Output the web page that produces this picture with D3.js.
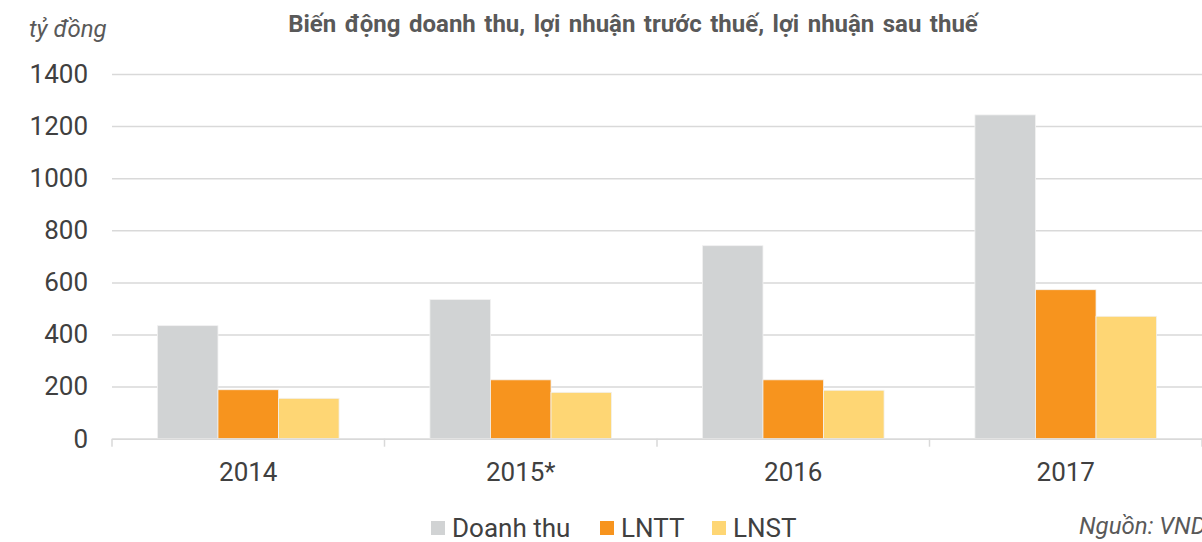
<!DOCTYPE html>
<html>
<head>
<meta charset="utf-8">
<script src="https://cdn.jsdelivr.net/npm/d3@7"></script>
<style>
html, body { margin: 0; padding: 0; background: #fff; overflow: hidden; }
svg { display: block; font-family: Roboto, "Open Sans", sans-serif; }
</style>
</head>
<body>
<div id="chart"></div>
<script>
const years = ['2014', '2015*', '2016', '2017']
const series = ['Doanh thu', 'LNTT', 'LNST']
const doanhThu = [434, 534, 741, 1243]
const lntt = [188, 226, 226, 572]
const lnst = [155, 178, 186, 470]
const yTicks = [0, 200, 400, 600, 800, 1000, 1200, 1400]
const colors = ['#d1d3d4', '#f7941e', '#fed674']

let width = 1202
let height = 542

let svg = d3.select('#chart').append('svg')
.attr('width', width)
.attr('height', height)

let x0 = d3.scaleBand()
.domain(years)
.range([112, 1202])

let x1 = d3.scaleBand()
.domain(series)
.range([0, x0.bandwidth()])
.paddingOuter(0.75)

let y = d3.scaleLinear()
.domain([0, 1400])
.range([438.7, 74])

let color = d3.scaleOrdinal()
.domain(series)
.range(colors)

let rows = years.map((yr, i) => ({ year: yr, values: [doanhThu[i], lntt[i], lnst[i]] }))

// grid + y labels
let grid = svg.append('g')
.call(d3.axisLeft(y).tickValues(yTicks).tickFormat(d3.format('d')).tickSize(-(1202 - 112)).tickPadding(24))
.attr('transform', 'translate(112,0)')

grid.select('.domain').remove()
grid.selectAll('.tick line')
.attr('stroke', '#d9d9d9')
.attr('stroke-width', 1.5)
grid.selectAll('.tick text')
.attr('fill', '#404040')
.style('font-size', '26px')
.style('font-family', 'Roboto, sans-serif')

// bars
svg.append('g').selectAll('g')
.data(rows)
.enter()
.append('g')
.attr('transform', d => 'translate(' + x0(d.year) + ',0)')
.selectAll('rect')
.data(d => d.values.map((v, i) => ({ key: series[i], value: v })))
.enter()
.append('rect')
.attr('x', d => x1(d.key))
.attr('y', d => y(d.value))
.attr('width', x1.bandwidth())
.attr('height', d => y(0) - y(d.value))
.attr('fill', d => color(d.key))
.attr('stroke', '#f2f2f2')
.attr('stroke-width', 0.8)

// x axis
let xAxis = svg.append('g')
.attr('transform', 'translate(0,' + y(0) + ')')
.call(d3.axisBottom(x0).tickSize(0).tickPadding(24))

xAxis.select('.domain')
.attr('stroke', '#d9d9d9')
.attr('stroke-width', 1.5)
xAxis.selectAll('.tick text')
.attr('fill', '#404040')
.style('font-size', '26px')
.style('font-family', 'Roboto, sans-serif')

xAxis.selectAll('.sep')
.data(years.map(yr => x0(yr)).concat([x0.range()[1]]))
.enter()
.append('line')
.attr('class', 'sep')
.attr('x1', d => d)
.attr('x2', d => d)
.attr('y1', 0)
.attr('y2', 8)
.attr('stroke', '#d9d9d9')
.attr('stroke-width', 1.5)

// title, unit, source
svg.append('text')
.attr('x', 633)
.attr('y', 32)
.attr('text-anchor', 'middle')
.attr('fill', '#595959')
.style('font-size', '24px')
.style('font-weight', 'bold')
.style('word-spacing', '2.5px')
.text('Biến động doanh thu, lợi nhuận trước thuế, lợi nhuận sau thuế')

svg.append('text')
.attr('x', 29)
.attr('y', 37)
.attr('fill', '#595959')
.style('font-size', '24px')
.style('font-style', 'italic')
.text('tỷ đồng')

svg.append('text')
.attr('x', 1079)
.attr('y', 534)
.attr('fill', '#595959')
.style('font-size', '24px')
.style('font-style', 'italic')
.text('Nguồn: VNDIRECT')

// legend
let legendX = [431, 600, 712]

let legend = svg.append('g').selectAll('g')
.data(series)
.enter()
.append('g')
.attr('transform', (d, i) => 'translate(' + legendX[i] + ',521)')

legend.append('rect')
.attr('width', 14)
.attr('height', 14)
.attr('fill', d => color(d))

legend.append('text')
.attr('x', 21)
.attr('y', 16)
.attr('fill', '#404040')
.style('font-size', '26px')
.text(d => d)
</script>
</body>
</html>
